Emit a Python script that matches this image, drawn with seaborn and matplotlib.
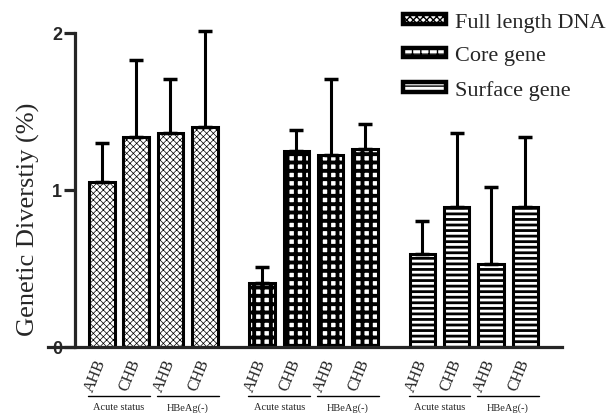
import numpy as np
import pandas as pd
import seaborn as sns
import matplotlib.pyplot as plt
from matplotlib.patches import Patch
import matplotlib.transforms as mtransforms

# data
genes = ['Full length DNA', 'Core gene', 'Surface gene']
groups = ['AHB', 'CHB', 'AHB', 'CHB']
full_mean = [1.05, 1.34, 1.36, 1.40]
full_err = [0.25, 0.49, 0.35, 0.61]
core_mean = [0.41, 1.25, 1.22, 1.26]
core_err = [0.10, 0.13, 0.49, 0.16]
surf_mean = [0.59, 0.89, 0.53, 0.89]
surf_err = [0.21, 0.47, 0.49, 0.45]
status_labels = ['Acute status', 'HBeAg(-)']

hatches = {'Full length DNA': 'xxxxx', 'Core gene': '++', 'Surface gene': '---'}
hatch_lw = {'Full length DNA': 0.5, 'Core gene': 2.8, 'Surface gene': 2.0}

# x positions: 4 bars per gene, gap between genes
gene_offset = [0, 4.67, 9.34]
pos = []
for off in gene_offset:
    pos += [off + i for i in range(4)]

df = pd.DataFrame({
    'pos': pos,
    'value': full_mean + core_mean + surf_mean,
    'err': full_err + core_err + surf_err,
    'gene': np.repeat(genes, 4),
    'label': groups * 3,
})

sns.set_style('ticks')
plt.rcParams['font.family'] = ['Liberation Serif', 'DejaVu Serif']

fig = plt.figure(figsize=(6.14, 4.14), dpi=100)
ax = fig.add_axes([48 / 614, 1 - 348 / 414, (562 - 48) / 614, 314 / 414])

sns.barplot(data=df, x='pos', y='value', native_scale=True, width=0.74,
            color='white', edgecolor='black', linewidth=2.2, errorbar=None, ax=ax)

for patch, g in zip(ax.patches, df['gene']):
    patch.set_hatch(hatches[g])
    if hasattr(patch, 'set_hatch_linewidth'):
        patch.set_hatch_linewidth(hatch_lw[g])
    patch.set_facecolor('white')

ax.errorbar(df['pos'], df['value'], yerr=[np.zeros(len(df)), df['err']],
            fmt='none', ecolor='black', elinewidth=2.2, capsize=5, capthick=2.5,
            clip_on=False, zorder=1)

ax.set_xlim(-1.57, 13.41)
ax.set_ylim(0, 2)
ax.spines['left'].set_position(('data', -0.79))
ax.spines['left'].set_linewidth(2.3)
ax.spines['bottom'].set_linewidth(2.3)
sns.despine(ax=ax)
ax.spines['left'].set_bounds(0, 2)

ax.set_yticks([0, 1, 2])
ax.set_yticklabels(['0', '1', '2'], fontsize=13, fontweight='bold',
                   family=['Liberation Sans', 'DejaVu Sans'])
ax.tick_params(axis='y', length=8, width=2.3, pad=1)
ax.set_xticks(df['pos'])
ax.set_xticklabels(df['label'], rotation=68, ha='right', va='center',
                   rotation_mode='anchor', fontsize=11.5)
ax.tick_params(axis='x', length=0, pad=9)
ax.set_xlabel('')
ax.set_ylabel('Genetic Diverstiy (%)', fontsize=19, labelpad=9, y=0.41)

# status brackets under the tick labels
trans = mtransforms.blended_transform_factory(ax.transData, ax.transAxes)
for off in gene_offset:
    for j, lab in enumerate(status_labels):
        x0 = off + 2 * j - 0.4
        x1 = off + 2 * j + 1.4
        ax.plot([x0, x1], [-0.157, -0.157], color='black', lw=1.0,
                transform=trans, clip_on=False)
        ax.text((x0 + x1) / 2, -0.176, lab, transform=trans, ha='center',
                va='top', fontsize=7.5)

handles = [Patch(facecolor='white', edgecolor='black', hatch=hatches[g],
                 linewidth=3.2, label=g) for g in genes]
for h, g in zip(handles, genes):
    if hasattr(h, 'set_hatch_linewidth'):
        h.set_hatch_linewidth(hatch_lw[g])
fig.legend(handles=handles, loc='upper left', bbox_to_anchor=(403 / 614, 1 - 14 / 414),
           frameon=False, fontsize=16, handlelength=1.95, handleheight=0.3,
           labelspacing=0.65, handletextpad=0.4, borderpad=0, borderaxespad=0)

fig.savefig('out.png', dpi=100)
